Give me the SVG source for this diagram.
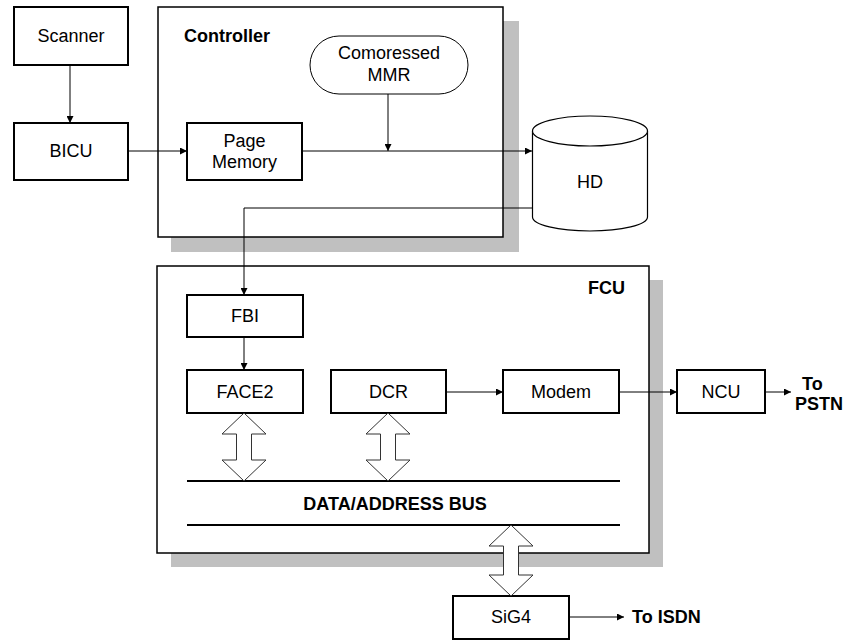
<svg xmlns="http://www.w3.org/2000/svg" width="849" height="640" viewBox="0 0 849 640">
<style>
text{font-family:"Liberation Sans",Arial,sans-serif;font-size:18px;fill:#000}
.b{font-weight:bold}
.m{text-anchor:middle}
.box{fill:#fff;stroke:#000;stroke-width:2}
.cont{fill:#fff;stroke:#000;stroke-width:1.5}
.shadow{fill:#c0c0c0;stroke:none}
.ln{fill:none;stroke:#000;stroke-width:1}
.bus{fill:none;stroke:#000;stroke-width:2}
.dbl{fill:#fff;stroke:#333;stroke-width:1}
</style>
<defs>
<marker id="ah" viewBox="0 0 10 10" refX="10" refY="5" markerWidth="9" markerHeight="7" markerUnits="userSpaceOnUse" orient="auto">
<path d="M0,0 L10,5 L0,10 Z" fill="#000"/>
</marker>
</defs>

<g id="controller">
<rect class="shadow" x="171" y="21" width="348" height="231"/>
<rect class="cont" x="158" y="7" width="345" height="230"/>
<text class="b" x="184" y="42">Controller</text>
</g>

<g id="fcu">
<rect class="shadow" x="171" y="280" width="492" height="287"/>
<rect class="cont" x="157" y="266" width="492" height="287"/>
<text class="b" x="588" y="294">FCU</text>
</g>

<g id="scanner">
<rect class="box" x="14" y="7" width="114" height="58"/>
<text class="m" x="71" y="42">Scanner</text>
</g>

<g id="bicu">
<rect class="box" x="14" y="123" width="114" height="57"/>
<text class="m" x="71" y="157">BICU</text>
</g>

<g id="page-memory">
<rect class="box" x="187" y="123" width="115" height="57"/>
<text class="m" x="244.5" y="147">Page</text>
<text class="m" x="244.5" y="168">Memory</text>
</g>

<g id="mmr">
<rect x="310" y="36" width="158" height="58" rx="29" ry="29" fill="#fff" stroke="#000" stroke-width="1"/>
<text class="m" x="389" y="59">Comoressed</text>
<text class="m" x="389" y="81">MMR</text>
</g>

<g id="hd">
<path d="M532.5,131 L532.5,217 A57.5,14 0 0 0 647.5,217 L647.5,131" fill="#fff" stroke="#000" stroke-width="1.2"/>
<ellipse cx="590" cy="131" rx="57.5" ry="15" fill="#fff" stroke="#000" stroke-width="1.2"/>
<text class="m" x="590" y="188">HD</text>
</g>

<g id="fbi">
<rect class="box" x="187" y="295" width="116" height="42"/>
<text class="m" x="245" y="322">FBI</text>
</g>

<g id="face2">
<rect class="box" x="187" y="370" width="116" height="43"/>
<text class="m" x="245" y="398">FACE2</text>
</g>

<g id="dcr">
<rect class="box" x="331" y="370" width="115" height="43"/>
<text class="m" x="388.5" y="398">DCR</text>
</g>

<g id="modem">
<rect class="box" x="503" y="370" width="116" height="43"/>
<text class="m" x="561" y="398">Modem</text>
</g>

<g id="ncu">
<rect class="box" x="677" y="370" width="88" height="43"/>
<text class="m" x="721" y="398">NCU</text>
</g>

<g id="to-pstn">
<text class="b" x="802" y="390">To</text>
<text class="b" x="795" y="410">PSTN</text>
</g>

<g id="bus">
<line class="bus" x1="187" y1="481" x2="620" y2="481"/>
<line class="bus" x1="187" y1="525" x2="620" y2="525"/>
<text class="b m" x="395" y="510">DATA/ADDRESS BUS</text>
</g>

<g id="sig4">
<rect class="box" x="453" y="596" width="116" height="43"/>
<text class="m" x="511" y="623">SiG4</text>
</g>

<g id="to-isdn">
<text class="b" x="632" y="623">To ISDN</text>
</g>

<g id="connectors">
<line class="ln" x1="70" y1="65" x2="70" y2="123" marker-end="url(#ah)"/>
<line class="ln" x1="128" y1="151" x2="187" y2="151" marker-end="url(#ah)"/>
<line class="ln" x1="302" y1="151" x2="532" y2="151" marker-end="url(#ah)"/>
<line class="ln" x1="388" y1="94" x2="388" y2="151" marker-end="url(#ah)"/>
<polyline class="ln" points="532,208 244,208 244,295" marker-end="url(#ah)"/>
<line class="ln" x1="244" y1="337" x2="244" y2="370" marker-end="url(#ah)"/>
<line class="ln" x1="446" y1="392" x2="503" y2="392" marker-end="url(#ah)"/>
<line class="ln" x1="619" y1="392" x2="677" y2="392" marker-end="url(#ah)"/>
<line class="ln" x1="765" y1="392" x2="791" y2="392" marker-end="url(#ah)"/>
<line class="ln" x1="569" y1="617" x2="624" y2="617" marker-end="url(#ah)"/>
<polygon class="dbl" points="244,413 266,434 251.5,434 251.5,460 266,460 244,481 222,460 236.5,460 236.5,434 222,434"/>
<polygon class="dbl" points="388,413 410,434 395.5,434 395.5,460 410,460 388,481 366,460 380.5,460 380.5,434 366,434"/>
<polygon class="dbl" points="511,525 533,546 518.5,546 518.5,575 533,575 511,596 489,575 503.5,575 503.5,546 489,546"/>
</g>
</svg>
